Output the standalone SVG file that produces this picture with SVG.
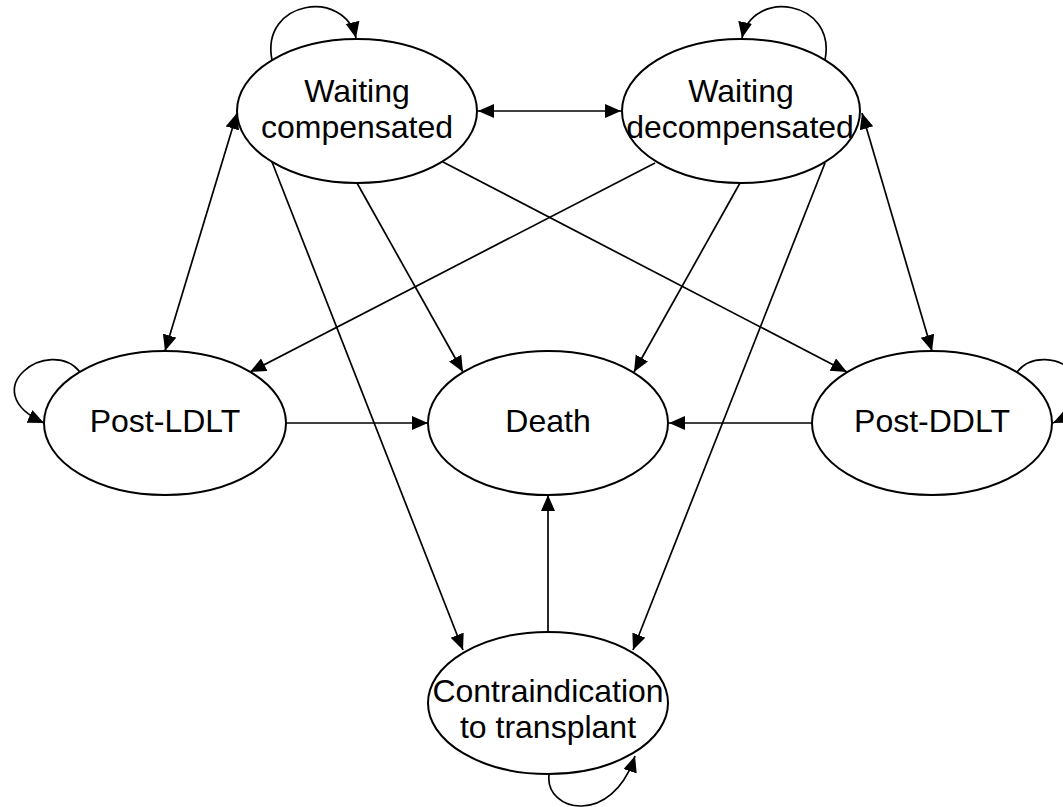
<svg xmlns="http://www.w3.org/2000/svg" width="1063" height="807" viewBox="0 0 1063 807">
<style>
.node ellipse{fill:#fff;stroke:#000;stroke-width:2}
.node text{font-family:"Liberation Sans",Arial,sans-serif;font-size:32px;fill:#000;text-anchor:middle}
.edges path,.edges line{fill:none;stroke:#000;stroke-width:1.7}
</style>
<defs>
<marker id="ah" markerUnits="userSpaceOnUse" markerWidth="17" markerHeight="15" refX="16" refY="7" orient="auto-start-reverse">
<path d="M0,0 L16,7 L0,14 z" fill="#000"/>
</marker>
</defs>
<rect width="1063" height="807" fill="#fff"/>
<g class="edges">
<path d="M272,60 C260,0 345,-12 356,38" marker-end="url(#ah)"/>
<path d="M825,60 C837,0 752,-12 742,38" marker-end="url(#ah)"/>
<path d="M80,372 C50,335 -28,390 44,423" marker-end="url(#ah)"/>
<path d="M1017,372 C1047,335 1125,390 1053,423" marker-end="url(#ah)"/>
<path d="M549,775 C545,812 612,827 635,756" marker-end="url(#ah)"/>
<line x1="478" y1="111" x2="621" y2="111" marker-start="url(#ah)" marker-end="url(#ah)"/>
<line x1="237" y1="113" x2="165" y2="351" marker-start="url(#ah)" marker-end="url(#ah)"/>
<line x1="862" y1="113" x2="932" y2="351" marker-start="url(#ah)" marker-end="url(#ah)"/>
<line x1="357" y1="183" x2="463" y2="372" marker-end="url(#ah)"/>
<line x1="443" y1="162" x2="847" y2="372" marker-end="url(#ah)"/>
<line x1="272" y1="162" x2="463" y2="650" marker-end="url(#ah)"/>
<line x1="655" y1="163" x2="250" y2="372" marker-end="url(#ah)"/>
<line x1="740" y1="183" x2="634" y2="372" marker-end="url(#ah)"/>
<line x1="825" y1="163" x2="633" y2="650" marker-end="url(#ah)"/>
<line x1="286" y1="423" x2="428" y2="423" marker-end="url(#ah)"/>
<line x1="812" y1="423" x2="669" y2="423" marker-end="url(#ah)"/>
<line x1="548" y1="632" x2="548" y2="495" marker-end="url(#ah)"/>
</g>
<g id="waiting-compensated" class="node">
<ellipse cx="357" cy="111" rx="120" ry="72"/>
<text x="357" y="102">Waiting</text>
<text x="357" y="138">compensated</text>
</g>
<g id="waiting-decompensated" class="node">
<ellipse cx="741" cy="111" rx="119" ry="72"/>
<text x="741" y="102">Waiting</text>
<text x="740" y="138">decompensated</text>
</g>
<g id="post-ldlt" class="node">
<ellipse cx="165" cy="423" rx="121" ry="72"/>
<text x="165" y="432">Post-LDLT</text>
</g>
<g id="death" class="node">
<ellipse cx="548" cy="423" rx="120" ry="72"/>
<text x="548" y="432">Death</text>
</g>
<g id="post-ddlt" class="node">
<ellipse cx="932" cy="423" rx="120" ry="72"/>
<text x="932" y="432">Post-DDLT</text>
</g>
<g id="contraindication" class="node">
<ellipse cx="548" cy="703" rx="120" ry="71"/>
<text x="548" y="702">Contraindication</text>
<text x="548" y="738">to transplant</text>
</g>
</svg>
